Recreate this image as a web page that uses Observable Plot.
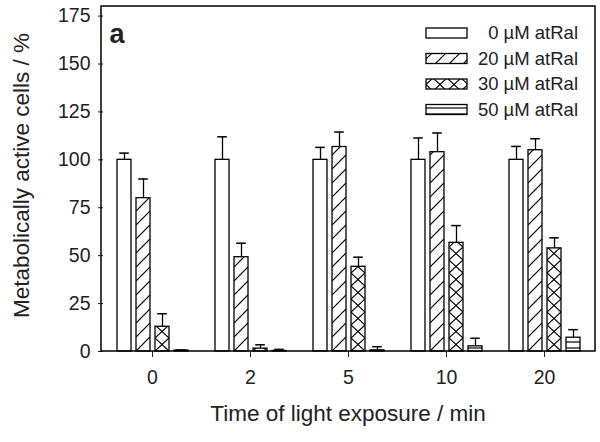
<!DOCTYPE html>
<html><head><meta charset="utf-8">
<script src="https://cdn.jsdelivr.net/npm/d3@7"></script>
<script src="https://cdn.jsdelivr.net/npm/@observablehq/plot@0.6"></script>
<style>
body{margin:0;background:#fff;}
svg{font-family:"Liberation Sans",Arial,Helvetica,sans-serif;}
</style>
</head><body><div id="chart"></div>
<script>
// ---- data ----
const times = ["0", "2", "5", "10", "20"];
const series = ["0 µM atRal", "20 µM atRal", "30 µM atRal", "50 µM atRal"];
const v0  = [100, 100, 100, 100, 100];
const e0  = [3.5, 12, 6.5, 11.4, 7];
const v20 = [80, 49.2, 106.7, 104, 105];
const e20 = [10, 7.3, 7.8, 10, 6];
const v30 = [12.9, 1.5, 44.2, 56.7, 53.8];
const e30 = [6.8, 2, 5, 9, 5.5];
const v50 = [0.5, 0.3, 0.6, 2.7, 7.2];
const e50 = [0.3, 0.8, 1.9, 4.2, 4.2];
const yTicks = [0, 25, 50, 75, 100, 125, 150, 175];
const panelLabel = "a";
const xLabel = "Time of light exposure / min";
const yLabel = "Metabolically active cells / %";
const patternIds = [null, "p-diag", "p-cross", "p-horiz"];

const values = [v0, v20, v30, v50];
const errors = [e0, e20, e30, e50];
const fillOf = k => patternIds[k] ? `url(#${patternIds[k]})` : "white";

const rows = [];
times.forEach((t, i) => series.forEach((s, k) => {
  rows.push({time: t, conc: s, value: values[k][i], err: errors[k][i], fill: fillOf(k)});
}));

const W = 600, H = 442, ML = 101, MR = 5, MT = 6, MB = 91;

const plot = Plot.plot({
  width: W, height: H,
  marginLeft: ML, marginRight: MR, marginTop: MT, marginBottom: MB,
  style: {fontFamily: '"Liberation Sans",Arial,sans-serif', fontSize: "19.5px", color: "#222", background: "white"},
  facet: {data: rows, x: "time"},
  fx: {domain: times, padding: 0, label: null, tickSize: 6, tickPadding: 13},
  x: {domain: series, paddingInner: 0.27, paddingOuter: 0.63, axis: null},
  y: {domain: [0, 180], ticks: yTicks, tickSize: 5, tickPadding: 8, label: null},
  color: {type: "identity"},
  marks: [
    Plot.ruleX(rows, {x: "conc", y1: "value", y2: d => d.value + d.err, stroke: "black", strokeWidth: 1.3}),
    Plot.barY(rows, {x: "conc", y: "value", fill: "fill", stroke: "black", strokeWidth: 1.3}),
    Plot.tickY(rows, {x: "conc", y: d => d.value + d.err, stroke: "black", strokeWidth: 1.5, insetLeft: 2.2, insetRight: 2.2})
  ]
});
document.getElementById("chart").appendChild(plot);

// ---- patterns ----
const svg = d3.select(plot);
const defs = svg.insert("defs", ":first-child");
function barRect(id) {
  let r = null;
  svg.selectAll("rect").each(function() { if (!r && this.getAttribute("fill") === `url(#${id})`) r = this; });
  return r;
}
function makePattern(id, h, draw) {
  const r = barRect(id);
  const bw = r ? +r.getAttribute("width") : 14.4;
  const bx = r ? +r.getAttribute("x") : 0;
  const by = r ? (+r.getAttribute("y") + +r.getAttribute("height")) : 0;
  const p = defs.append("pattern").attr("id", id).attr("patternUnits", "userSpaceOnUse")
    .attr("x", bx).attr("y", by).attr("width", bw).attr("height", h);
  p.append("rect").attr("width", bw).attr("height", h).attr("fill", "white");
  draw(p, bw, h);
}
const ls = {stroke: "black", "stroke-width": 1.2, fill: "none"};
function line(p, x1, y1, x2, y2) {
  const l = p.append("line").attr("x1", x1).attr("y1", y1).attr("x2", x2).attr("y2", y2);
  for (const k in ls) l.attr(k, ls[k]);
}
makePattern("p-diag", 14, (p, w, h) => { line(p, 0, h, w, 0); line(p, -w, h, 0, 0); line(p, w, h, 2 * w, 0); });
makePattern("p-cross", 13, (p, w, h) => { line(p, 0, h, w, 0); line(p, 0, 0, w, h); });
makePattern("p-horiz", 6, (p, w, h) => { line(p, -1, 3, w + 1, 3); });

// ---- frame, titles, legend ----
const g = svg.append("g");
g.append("rect").attr("x", ML).attr("y", MT).attr("width", W - ML - MR).attr("height", H - MT - MB)
  .attr("fill", "none").attr("stroke", "black").attr("stroke-width", 1.5);
g.append("text").attr("transform", `translate(21,${(MT + H - MB) / 2 - 3}) rotate(-90)`)
  .attr("text-anchor", "middle").attr("dy", "0.35em").attr("font-size", 22.5).attr("fill", "#222").text(yLabel);
g.append("text").attr("x", 348).attr("y", 421).attr("text-anchor", "middle")
  .attr("font-size", 22.5).attr("fill", "#222").text(xLabel);
g.append("text").attr("x", 117).attr("y", 43).attr("font-size", 27).attr("font-weight", "bold")
  .attr("fill", "#222").text(panelLabel);
const leg = g.append("g");
series.forEach((s, k) => {
  const cy = 33 + k * 25.5;
  leg.append("rect").attr("x", 426).attr("y", cy - 5).attr("width", 41).attr("height", 10)
    .attr("fill", fillOf(k)).attr("stroke", "black").attr("stroke-width", 1.3);
  leg.append("text").attr("x", 578).attr("y", cy).attr("dy", "0.35em").attr("text-anchor", "end")
    .attr("font-size", 18.5).attr("fill", "#222").text(s);
});
</script>
</body></html>
